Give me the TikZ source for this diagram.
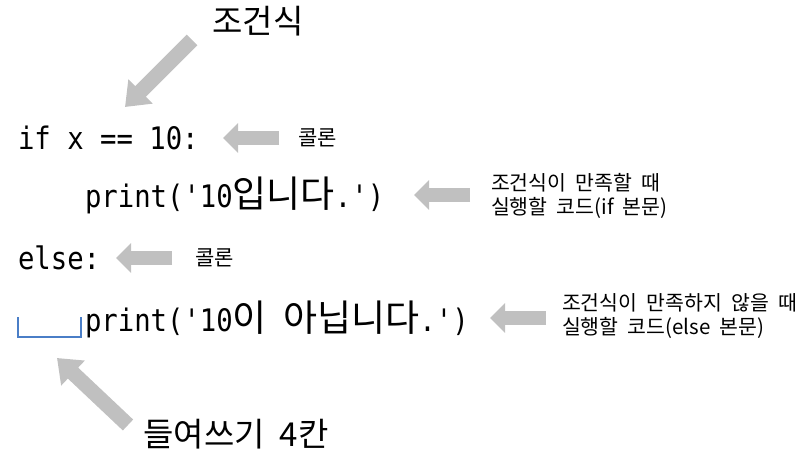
\documentclass[tikz,border=0pt]{standalone}
\usepackage{fontspec}
\setmainfont{Noto Sans CJK KR}
\newfontfamily\kr{Noto Sans CJK KR}
\newfontfamily\krnote[WordSpace=2.0]{Noto Sans CJK KR}
\newfontfamily\code[FakeStretch=0.88]{DejaVu Sans Mono}
\usetikzlibrary{arrows.meta}
\definecolor{arrowgray}{RGB}{192,192,192}
\definecolor{indentblue}{RGB}{74,126,199}
\newcommand{\q}{\symbol{39}}
\newcommand{\codefont}{\code\fontsize{31}{31}\selectfont}
\newcommand{\krcode}[1]{{\kr\fontsize{37}{37}\selectfont #1}}
\tikzset{
  txt/.style={inner sep=0pt, outer sep=0pt},
  codeline/.style={txt, anchor=base west, font=\codefont},
  bigko/.style={txt, font=\kr\fontsize{33}{33}\selectfont},
  smallko/.style={txt, anchor=west, font=\kr\fontsize{21}{21}\selectfont},
  noteko/.style={txt, anchor=west, align=left, font=\krnote\fontsize{20.5}{24}\selectfont},
  fatarrow/.style={draw=arrowgray, line width=14pt, -{Triangle[length=15pt,width=29pt]}},
  bigarrow/.style={draw=arrowgray, line width=15pt, -{Triangle[length=22pt,width=33pt]}},
  bracket/.style={draw=indentblue, line width=2pt}
}
\begin{document}
\begin{tikzpicture}[x=1pt,y=-1pt]
\useasboundingbox (0,0) rectangle (811,462);
% code lines
\node[codeline] (l1) at (18,150) {if x == 10:};
\node[codeline] (l2) at (85,208) {print(\q10\krcode{입니다}.\q)};
\node[codeline] (l3) at (18,270) {else:};
\node[codeline] (l4) at (85,331) {print(\q10\krcode{이} \krcode{아닙니다}.\q)};
% labels
\node[bigko] (cond) at (258,21) {조건식};
\node[smallko] (colon1) at (298,138) {콜론};
\node[noteko] (note1) at (491,196) {조건식이 만족할 때\\실행할 코드(if 본문)};
\node[noteko] (note2) at (562,316) {조건식이 만족하지 않을 때\\실행할 코드(else 본문)};
\node[smallko] (colon2) at (195,258) {콜론};
\node[bigko] (indent) at (236,434) {들여쓰기 4칸};
% arrow end points
\coordinate (c1s) at (192,40);  \coordinate (c1e) at (125,107);
\coordinate (k1s) at (279,138); \coordinate (k1e) at (223,138);
\coordinate (b1s) at (470,195); \coordinate (b1e) at (414,195);
\coordinate (k2s) at (172,258); \coordinate (k2e) at (116,258);
\coordinate (b2s) at (546,318); \coordinate (b2e) at (490,318);
\coordinate (i1s) at (128,425); \coordinate (i1e) at (57,358);
\draw[bigarrow] (c1s) -- (c1e);
\draw[fatarrow] (k1s) -- (k1e);
\draw[fatarrow] (b1s) -- (b1e);
\draw[fatarrow] (k2s) -- (k2e);
\draw[fatarrow] (b2s) -- (b2e);
\draw[bigarrow] (i1s) -- (i1e);
% indentation bracket
\coordinate (q1) at (18,317); \coordinate (q2) at (81,317);
\draw[bracket] (q1) |- (q2 |- 0,337) -- (q2);
\end{tikzpicture}
\end{document}
